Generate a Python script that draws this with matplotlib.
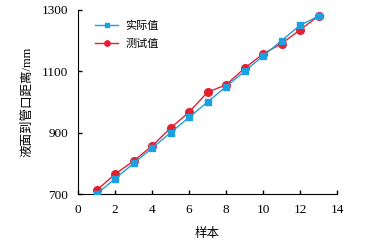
import matplotlib
matplotlib.use("Agg")
import matplotlib.pyplot as plt

samples = [1, 2, 3, 4, 5, 6, 7, 8, 9, 10, 11, 12, 13]
actual = [700, 750, 800, 850, 900, 950, 1000, 1050, 1100, 1150, 1200, 1250, 1280]
measured = [712, 765, 808, 857, 915, 967, 1032, 1056, 1110, 1157, 1190, 1235, 1280]
xticks = [0, 2, 4, 6, 8, 10, 12, 14]
yticks = [700, 900, 1100, 1300]

plt.rcParams['font.family'] = ['Liberation Serif', 'Noto Sans CJK SC']
plt.rcParams['font.size'] = 9

fig = plt.figure(figsize=(3.7, 2.42), dpi=100)
ax = fig.add_axes([0.211, 0.198, 0.70, 0.761])

blue = '#1ba1e2'
red = '#e3202f'
ax.plot(samples, actual, color=blue, marker='s', markersize=5, linewidth=1.0, label='实际值', zorder=3)
ax.plot(samples, measured, color=red, marker='o', markersize=5.5, linewidth=1.0, label='测试值', zorder=2)

ax.set_xlim(0, 14)
ax.set_ylim(700, 1300)
ax.set_xticks(xticks)
ax.set_yticks(yticks)
ax.spines['top'].set_visible(False)
ax.spines['right'].set_visible(False)
ax.tick_params(direction='in', length=3, width=1, labelsize=9.5, pad=7)
ax.set_xlabel('样本', fontsize=9, labelpad=9)
ax.set_ylabel('液面到管口距离/mm', fontsize=9, labelpad=6)

leg = ax.legend(loc='upper left', frameon=False, bbox_to_anchor=(0.066, 0.94), fontsize=8,
                handlelength=2.1, handletextpad=0.6, labelspacing=0.65,
                borderpad=0, borderaxespad=0, markerscale=0.7)

fig.savefig('out.png', dpi=100)
